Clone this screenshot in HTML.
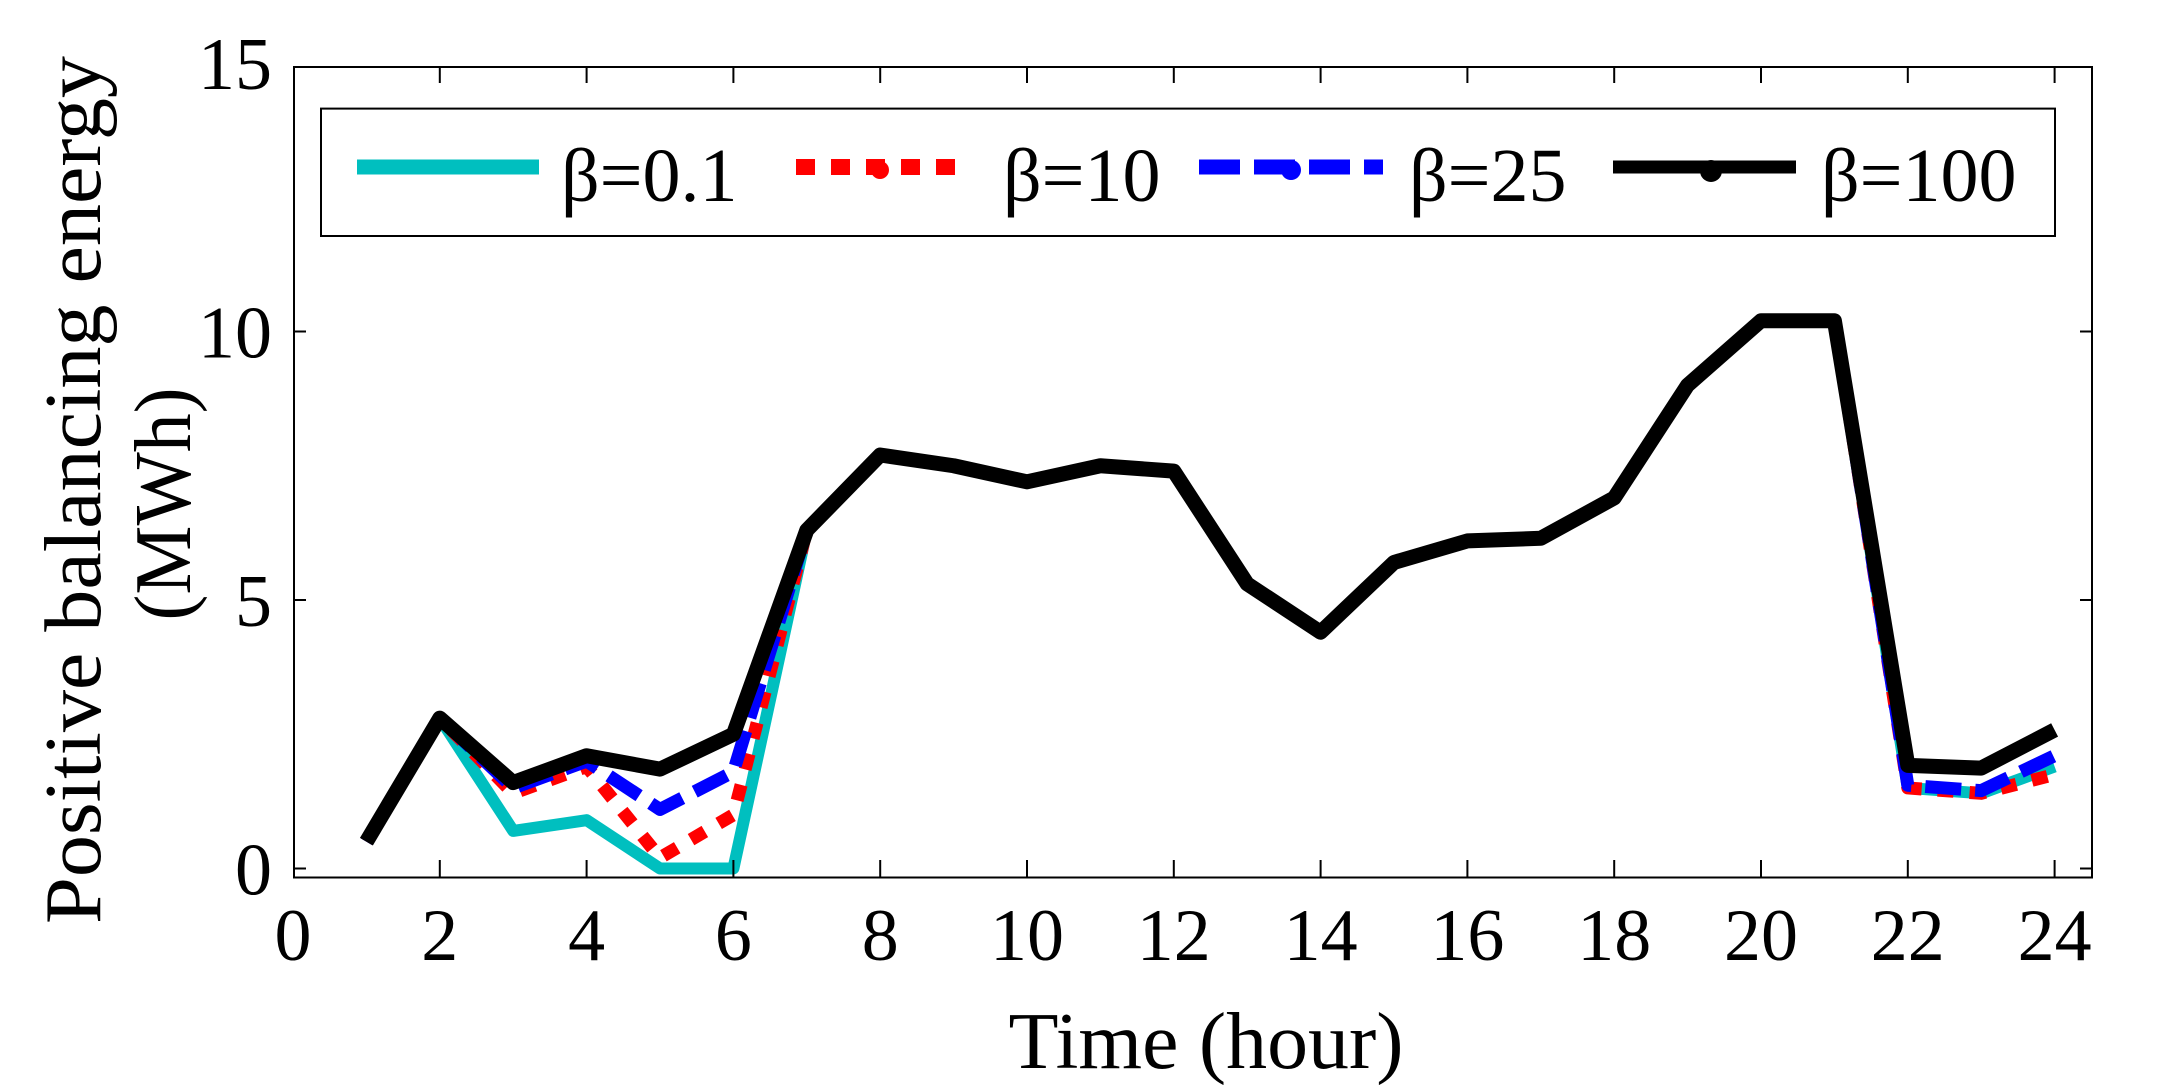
<!DOCTYPE html>
<html><head><meta charset="utf-8"><style>
html,body{margin:0;padding:0;background:#fff;}
svg{display:block;}
text{font-family:"Liberation Serif","DejaVu Serif",serif;fill:#000;}
</style></head><body>
<svg width="2180" height="1085" viewBox="0 0 2180 1085" xmlns="http://www.w3.org/2000/svg">
<rect x="0" y="0" width="2180" height="1085" fill="#fff"/>
<g id="plot"></g>
<rect x="294" y="67" width="1798" height="810.5" fill="none" stroke="#000" stroke-width="2"/>
<g stroke="#000" stroke-width="2" id="ticks"></g>
<g font-size="74" text-anchor="middle" id="xl"></g>
<g font-size="74" text-anchor="end" id="yl"></g>
<text x="1206" y="1068" font-size="80" text-anchor="middle" textLength="395" lengthAdjust="spacingAndGlyphs">Time (hour)</text>
<text transform="translate(100,490) rotate(-90)" font-size="80" text-anchor="middle" textLength="868" lengthAdjust="spacingAndGlyphs">Positive balancing energy</text>
<text transform="translate(190,504) rotate(-90)" font-size="80" text-anchor="middle" textLength="233" lengthAdjust="spacingAndGlyphs">(MWh)</text>
<rect x="321" y="108.6" width="1734" height="127.4" fill="#fff" stroke="#000" stroke-width="2"/>
<line x1="357" y1="167" x2="539" y2="167" stroke="#00bfbf" stroke-width="15"/>
<text x="561" y="201" font-size="76">β=0.1</text>
<line x1="796" y1="167" x2="966" y2="167" stroke="#f00" stroke-width="16" stroke-dasharray="19,16"/>
<circle cx="880" cy="170" r="9" fill="#f00"/>
<text x="1003" y="201" font-size="76">β=10</text>
<line x1="1199" y1="167" x2="1383" y2="167" stroke="#00f" stroke-width="15" stroke-dasharray="41,14"/>
<circle cx="1291" cy="170" r="10" fill="#00f"/>
<text x="1409" y="201" font-size="76">β=25</text>
<line x1="1613" y1="167" x2="1796" y2="167" stroke="#000" stroke-width="13"/>
<circle cx="1711" cy="171" r="11" fill="#000"/>
<text x="1821" y="201" font-size="76">β=100</text>
<script>
var X=function(h){return 293+h*73.4;},Y=function(v){return 868.5-v*53.7;};
var base=[0.5,2.8,0,0,0,0,6.3,7.7,7.5,7.2,7.5,7.4,5.3,4.4,5.7,6.1,6.15,6.9,9.0,10.2,10.2,0,0,0];
function s(o){var a=base.slice();for(var k in o)a[k-1]=o[k];return a;}
var series=[
 [s({3:0.7,4:0.9,5:0,6:0,22:1.5,23:1.4,24:1.9}),'#00bfbf',12,''],
 [s({3:1.4,4:1.9,5:0.2,6:1.0,22:1.5,23:1.4,24:1.75}),'#f00',13,'16,16'],
 [s({3:1.5,4:2.0,5:1.1,6:1.8,22:1.55,23:1.45,24:2.1}),'#00f',13,'36,14'],
 [s({3:1.6,4:2.1,5:1.85,6:2.5,22:1.92,23:1.87,24:2.58}),'#000',15,'']];
var ns='http://www.w3.org/2000/svg',g=document.getElementById('plot');
series.forEach(function(sr){var p=document.createElementNS(ns,'polyline');
 p.setAttribute('points',sr[0].map(function(v,i){return X(i+1)+','+Y(v);}).join(' '));
 p.setAttribute('fill','none');p.setAttribute('stroke',sr[1]);p.setAttribute('stroke-width',sr[2]);
 p.setAttribute('stroke-linejoin','round');if(sr[3])p.setAttribute('stroke-dasharray',sr[3]);g.appendChild(p);});
var t=document.getElementById('ticks'),xl=document.getElementById('xl'),yl=document.getElementById('yl');
function ln(a,b,c,d){var l=document.createElementNS(ns,'line');l.setAttribute('x1',a);l.setAttribute('y1',b);l.setAttribute('x2',c);l.setAttribute('y2',d);t.appendChild(l);}
function tx(par,x,y,s){var e=document.createElementNS(ns,'text');e.setAttribute('x',x);e.setAttribute('y',y);e.textContent=s;par.appendChild(e);}
for(var h=0;h<=24;h+=2){var x=X(h);if(h>0){ln(x,877.5,x,860);ln(x,67,x,83);}tx(xl,x,960,h);}
for(var v=0;v<=15;v+=5){var y=Y(v);if(v<15){ln(294,y,306,y);ln(2092,y,2080,y);}tx(yl,272,y+26,v);}
</script>
</svg>
</body></html>
